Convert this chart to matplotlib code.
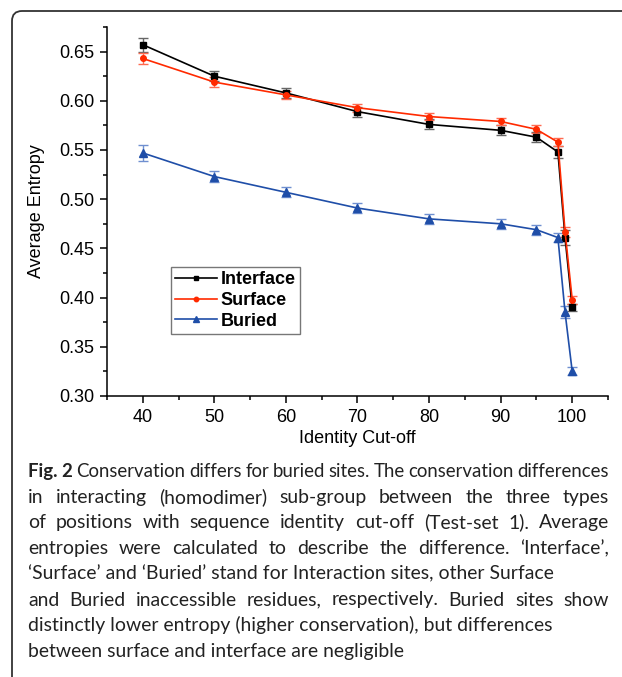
import matplotlib
matplotlib.use("Agg")
import matplotlib.pyplot as plt
from matplotlib import font_manager as fm
from matplotlib.patches import FancyBboxPatch
from matplotlib.ticker import MultipleLocator

# identity cut-off (%) and average entropy per residue class
cutoff = [40, 50, 60, 70, 80, 90, 95, 98, 99, 100]

interface = [0.657, 0.625, 0.608, 0.589, 0.576, 0.570, 0.563, 0.548, 0.461, 0.390]
interface_err = [0.007, 0.005, 0.005, 0.005, 0.005, 0.005, 0.005, 0.006, 0.008, 0.004]

surface = [0.643, 0.619, 0.606, 0.593, 0.584, 0.579, 0.571, 0.558, 0.467, 0.398]
surface_err = [0.006, 0.005, 0.004, 0.004, 0.004, 0.004, 0.004, 0.004, 0.005, 0.004]

buried = [0.547, 0.523, 0.507, 0.491, 0.480, 0.475, 0.469, 0.461, 0.385, 0.325]
buried_err = [0.008, 0.006, 0.005, 0.005, 0.005, 0.005, 0.005, 0.005, 0.006, 0.004]

labels = ["Interface", "Surface", "Buried"]

caption = [
    "Fig. 2 Conservation differs for buried sites. The conservation differences",
    "in interacting (homodimer) sub-group between the three types",
    "of positions with sequence identity cut-off (Test-set 1). Average",
    "entropies were calculated to describe the difference. \u2018Interface\u2019,",
    "\u2018Surface\u2019 and \u2018Buried\u2019 stand for Interaction sites, other Surface",
    "and Buried inaccessible residues, respectively. Buried sites show",
    "distinctly lower entropy (higher conservation), but differences",
    "between surface and interface are negligible",
]
justified = [True, True, True, True, False, True, False, False]

W, H = 622, 677
fig = plt.figure(figsize=(W / 100, H / 100), dpi=100)
fig.patch.set_facecolor("white")

# outer frame (rounded top-left corner, open to the right and bottom)
frame = FancyBboxPatch((12, -30), 720, H - 11 + 30,
                       boxstyle="round,pad=0,rounding_size=10",
                       transform=None, fill=False, edgecolor="#333333",
                       linewidth=1.3, clip_on=False)
fig.add_artist(frame)

plt.rcParams["font.family"] = ["Liberation Sans", "DejaVu Sans"]

ax = fig.add_axes([107 / W, (H - 396) / H, (608 - 107) / W, (396 - 27) / H])

series = [
    (interface, interface_err, "black", "#666666", "s", 4.0),
    (surface, surface_err, "#ff2a00", "#ff6a50", "o", 4.0),
    (buried, buried_err, "#1f4ea8", "#6f8fd0", "^", 5.5),
]
handles = []
for vals, err, col, ecol, mk, ms in series:
    c = ax.errorbar(cutoff, vals, yerr=err, color=col, ecolor=ecol, marker=mk,
                    markersize=ms, linewidth=1.2, elinewidth=1.0, capsize=3.5,
                    capthick=1.0)
    handles.append(c[0])

ax.set_xlim(35, 105)
ax.set_ylim(0.30, 0.675)
ax.xaxis.set_minor_locator(MultipleLocator(5))
ax.yaxis.set_minor_locator(MultipleLocator(0.025))
ax.set_xticks([40, 50, 60, 70, 80, 90, 100])
ax.set_yticks([0.30, 0.35, 0.40, 0.45, 0.50, 0.55, 0.60, 0.65])
ax.yaxis.set_major_formatter(plt.FuncFormatter(lambda v, p: "%.2f" % v))

for s in ["top", "right"]:
    ax.spines[s].set_visible(False)
for s in ["left", "bottom"]:
    ax.spines[s].set_linewidth(1.1)
ax.tick_params(which="major", direction="out", length=5, width=1.1,
               labelsize=13, pad=4)
ax.tick_params(which="minor", direction="out", length=3, width=1.1)

ax.set_xlabel("Identity Cut-off", fontsize=13)
ax.xaxis.set_label_coords(0.5, -0.093)
ax.set_ylabel("Average Entropy", fontsize=13)
ax.yaxis.set_label_coords(-0.124, 0.5)

leg = ax.legend(handles, labels, loc="upper left", bbox_to_anchor=(0.127, 0.350),
                borderaxespad=0, fancybox=False, edgecolor="#555555",
                prop={"weight": "bold", "size": 13}, handlelength=2.3,
                handletextpad=0.2, labelspacing=0.2, borderpad=0.25,
                markerscale=0.8)
leg.get_frame().set_linewidth(1.0)


def cap_prop(size, weight="normal"):
    return fm.FontProperties(family=["Lato", "DejaVu Sans"], weight=weight, size=size)


# caption, set word by word so full lines come out justified
left, right = 28, 609
renderer = fig.canvas.get_renderer()


def text_width(s, size, weight="normal"):
    t = fig.text(0, 0, s, fontproperties=cap_prop(size, weight))
    w = t.get_window_extent(renderer).width
    t.remove()
    return w


# size the caption so the ragged lines end about where they should
ragged_ends = {4: 575, 6: 597, 7: 437}
probe = sum(text_width(caption[k], 10) for k in ragged_ends)
cap_size = 0.94 * 10 * sum(e - left for e in ragged_ends.values()) / probe

for i, line in enumerate(caption):
    base = H - (477 + 25.7 * i)
    if i == 0:
        words = [("Fig. 2", "bold")] + [(w, "normal") for w in line.split()[2:]]
    else:
        words = [(w, "normal") for w in line.split()]
    if not justified[i]:
        fig.text(left / W, base / H, line, fontproperties=cap_prop(cap_size),
                 va="baseline", ha="left", color="#222222")
        continue
    size = cap_size
    widths = [text_width(w, size, wt) for w, wt in words]
    min_gap = 0.2 * size * 100 / 72
    room = right - left - min_gap * (len(words) - 1)
    if sum(widths) > room:
        # too long for the column: shrink this line a little
        size *= room / sum(widths)
        widths = [text_width(w, size, wt) for w, wt in words]
    gap = (right - left - sum(widths)) / (len(words) - 1)
    x = left
    for (w, wt), wd in zip(words, widths):
        fig.text(x / W, base / H, w, fontproperties=cap_prop(size, wt),
                 va="baseline", ha="left", color="#222222")
        x += wd + gap

fig.savefig("out.png", dpi=100)
